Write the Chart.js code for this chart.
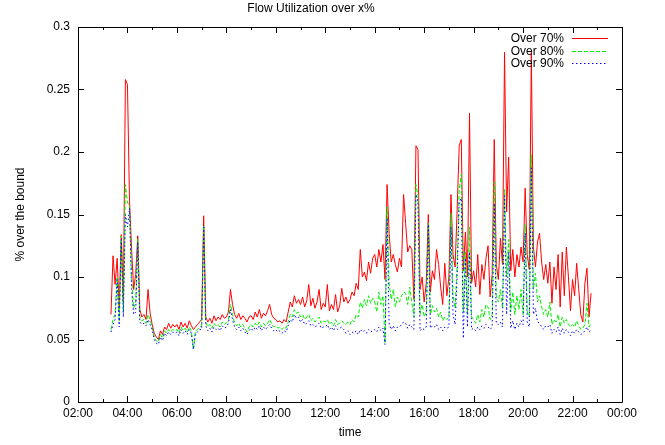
<!DOCTYPE html>
<html>
<head>
<meta charset="utf-8">
<script src="https://cdn.jsdelivr.net/npm/chart.js@4.4.1/dist/chart.umd.min.js"></script>
<style>
  body { margin: 0; background: #fff; }
  #wrap { width: 665px; height: 445px; }
</style>
</head>
<body>
<div id="wrap"><canvas id="flowChart" width="665" height="445"></canvas></div>
<script>
// samples every 5 minutes, first one at 03:20 (hours since midnight)
const startHour = 3 + 20 / 60;
const stepHours = 5 / 60;

const seriesNames = ['Over 70%', 'Over 80%', 'Over 90%'];

const over70 = [
  0.070, 0.117, 0.094, 0.115, 0.075, 0.134, 0.080, 0.258,
  0.254, 0.161, 0.123, 0.090, 0.102, 0.133, 0.074, 0.068, 0.070, 0.066, 0.090, 0.071,
  0.062, 0.055, 0.052, 0.050, 0.057, 0.054, 0.060, 0.058, 0.063, 0.059, 0.062, 0.060,
  0.062, 0.058, 0.064, 0.060, 0.063, 0.059, 0.065, 0.061, 0.058, 0.060, 0.062, 0.064,
  0.066, 0.149, 0.068, 0.064, 0.067, 0.063, 0.069, 0.065, 0.068, 0.066, 0.070, 0.067,
  0.068, 0.072, 0.090, 0.078, 0.070, 0.067, 0.071, 0.066, 0.069, 0.067, 0.064, 0.068,
  0.069, 0.066, 0.072, 0.068, 0.074, 0.067, 0.071, 0.069, 0.073, 0.078, 0.070, 0.067,
  0.066, 0.064, 0.065, 0.063, 0.066, 0.064, 0.072, 0.080, 0.076, 0.085, 0.079, 0.082,
  0.078, 0.084, 0.076, 0.081, 0.094, 0.077, 0.083, 0.075, 0.080, 0.090, 0.074, 0.079,
  0.076, 0.094, 0.073, 0.078, 0.074, 0.086, 0.072, 0.077, 0.091, 0.080, 0.084, 0.079,
  0.082, 0.088, 0.085, 0.095, 0.090, 0.122, 0.100, 0.104, 0.097, 0.112, 0.103, 0.115,
  0.118, 0.108, 0.122, 0.112, 0.126, 0.098, 0.174, 0.135, 0.112, 0.118, 0.110, 0.104,
  0.115, 0.108, 0.166, 0.143, 0.120, 0.125, 0.122, 0.082, 0.205, 0.202, 0.090, 0.100,
  0.080, 0.095, 0.150, 0.088, 0.105, 0.098, 0.122, 0.110, 0.092, 0.078, 0.111, 0.085,
  0.100, 0.166, 0.118, 0.108, 0.154, 0.205, 0.210, 0.105, 0.136, 0.100, 0.231, 0.095,
  0.105, 0.092, 0.118, 0.086, 0.110, 0.098, 0.115, 0.125, 0.084, 0.102, 0.210, 0.110,
  0.098, 0.131, 0.110, 0.280, 0.152, 0.196, 0.105, 0.122, 0.100, 0.118, 0.108, 0.124,
  0.112, 0.171, 0.118, 0.106, 0.280, 0.124, 0.108, 0.128, 0.135, 0.112, 0.098, 0.110,
  0.095, 0.112, 0.079, 0.108, 0.090, 0.118, 0.076, 0.120, 0.085, 0.124, 0.100, 0.073,
  0.098, 0.085, 0.111, 0.090, 0.070, 0.064, 0.095, 0.107, 0.068, 0.087
];

const over80 = [
  0.058, 0.066, 0.070, 0.100, 0.065, 0.133, 0.072, 0.174,
  0.160, 0.156, 0.100, 0.075, 0.080, 0.130, 0.068, 0.065, 0.066, 0.063, 0.070, 0.066,
  0.060, 0.052, 0.049, 0.048, 0.054, 0.051, 0.057, 0.055, 0.058, 0.056, 0.058, 0.057,
  0.058, 0.055, 0.060, 0.057, 0.059, 0.056, 0.060, 0.057, 0.042, 0.057, 0.058, 0.060,
  0.061, 0.141, 0.064, 0.060, 0.062, 0.059, 0.063, 0.061, 0.062, 0.060, 0.064, 0.062,
  0.063, 0.066, 0.078, 0.070, 0.063, 0.061, 0.063, 0.060, 0.062, 0.059, 0.056, 0.060,
  0.062, 0.060, 0.063, 0.061, 0.064, 0.060, 0.063, 0.061, 0.063, 0.066, 0.062, 0.060,
  0.061, 0.059, 0.060, 0.058, 0.060, 0.059, 0.064, 0.070, 0.068, 0.074, 0.071, 0.072,
  0.068, 0.070, 0.066, 0.068, 0.070, 0.065, 0.067, 0.064, 0.066, 0.068, 0.063, 0.065,
  0.064, 0.066, 0.062, 0.064, 0.061, 0.066, 0.062, 0.063, 0.065, 0.063, 0.062, 0.064,
  0.062, 0.066, 0.064, 0.070, 0.068, 0.080, 0.075, 0.082, 0.077, 0.085, 0.079, 0.083,
  0.080, 0.072, 0.088, 0.078, 0.085, 0.047, 0.156, 0.095, 0.082, 0.090, 0.076, 0.084,
  0.080, 0.085, 0.088, 0.087, 0.078, 0.092, 0.080, 0.068, 0.174, 0.165, 0.070, 0.078,
  0.068, 0.072, 0.143, 0.070, 0.077, 0.072, 0.075, 0.068, 0.072, 0.065, 0.068, 0.066,
  0.068, 0.151, 0.085, 0.075, 0.110, 0.170, 0.182, 0.072, 0.120, 0.070, 0.140, 0.068,
  0.066, 0.063, 0.070, 0.064, 0.074, 0.068, 0.078, 0.076, 0.066, 0.070, 0.176, 0.085,
  0.080, 0.090, 0.075, 0.170, 0.100, 0.130, 0.072, 0.088, 0.070, 0.085, 0.074, 0.090,
  0.070, 0.142, 0.072, 0.068, 0.198, 0.090, 0.103, 0.080, 0.085, 0.076, 0.070, 0.074,
  0.068, 0.080, 0.062, 0.066, 0.064, 0.070, 0.060, 0.068, 0.063, 0.066, 0.062, 0.060,
  0.062, 0.060, 0.065, 0.061, 0.058, 0.059, 0.062, 0.079, 0.060, 0.063
];

const over90 = [
  0.056, 0.062, 0.066, 0.098, 0.060, 0.130, 0.068, 0.150,
  0.140, 0.155, 0.090, 0.070, 0.072, 0.128, 0.064, 0.062, 0.063, 0.061, 0.066, 0.062,
  0.058, 0.050, 0.047, 0.046, 0.052, 0.049, 0.055, 0.053, 0.056, 0.054, 0.056, 0.055,
  0.056, 0.053, 0.058, 0.055, 0.057, 0.054, 0.058, 0.055, 0.042, 0.055, 0.056, 0.058,
  0.058, 0.140, 0.061, 0.057, 0.059, 0.056, 0.060, 0.058, 0.059, 0.057, 0.061, 0.059,
  0.060, 0.063, 0.074, 0.066, 0.060, 0.058, 0.060, 0.057, 0.059, 0.056, 0.054, 0.057,
  0.059, 0.057, 0.060, 0.058, 0.061, 0.057, 0.060, 0.058, 0.060, 0.062, 0.059, 0.057,
  0.058, 0.056, 0.057, 0.055, 0.057, 0.056, 0.061, 0.066, 0.064, 0.070, 0.067, 0.068,
  0.064, 0.066, 0.062, 0.063, 0.065, 0.061, 0.062, 0.060, 0.061, 0.063, 0.059, 0.060,
  0.060, 0.062, 0.058, 0.060, 0.057, 0.061, 0.058, 0.059, 0.060, 0.058, 0.055, 0.057,
  0.054, 0.056, 0.055, 0.057, 0.054, 0.058, 0.056, 0.057, 0.055, 0.058, 0.056, 0.057,
  0.058, 0.056, 0.060, 0.057, 0.059, 0.046, 0.147, 0.062, 0.058, 0.061, 0.057, 0.060,
  0.060, 0.062, 0.064, 0.063, 0.059, 0.062, 0.060, 0.058, 0.166, 0.160, 0.057, 0.059,
  0.058, 0.060, 0.142, 0.059, 0.061, 0.060, 0.062, 0.058, 0.060, 0.057, 0.060, 0.059,
  0.060, 0.140, 0.070, 0.062, 0.100, 0.160, 0.163, 0.051, 0.115, 0.060, 0.120, 0.058,
  0.059, 0.057, 0.060, 0.058, 0.061, 0.059, 0.062, 0.060, 0.058, 0.060, 0.159, 0.063,
  0.062, 0.064, 0.060, 0.165, 0.070, 0.120, 0.059, 0.065, 0.058, 0.063, 0.060, 0.065,
  0.062, 0.135, 0.064, 0.060, 0.187, 0.070, 0.075, 0.064, 0.063, 0.060, 0.058, 0.061,
  0.060, 0.062, 0.055, 0.058, 0.056, 0.060, 0.054, 0.059, 0.055, 0.058, 0.056, 0.053,
  0.057, 0.055, 0.058, 0.056, 0.054, 0.055, 0.057, 0.060, 0.056, 0.058
];

const hourTicks = [2, 4, 6, 8, 10, 12, 14, 16, 18, 20, 22, 24];
const hourTickLabels = ['02:00', '04:00', '06:00', '08:00', '10:00', '12:00',
                        '14:00', '16:00', '18:00', '20:00', '22:00', '00:00'];
const minorHourTicks = [3, 5, 7, 9, 11, 13, 15, 17, 19, 21, 23];
const yTicks = [0, 0.05, 0.1, 0.15, 0.2, 0.25, 0.3];
const yTickLabels = ['0', '0.05', '0.1', '0.15', '0.2', '0.25', '0.3'];

const colors = ['#ff0000', '#00ee00', '#0000ff'];
const dashes = [[], [4, 2], [1.5, 2.5]];

function toPoints(values) {
  return values.map((v, i) => ({ x: startHour + i * stepHours, y: v }));
}

Chart.defaults.font.family = "'Liberation Sans', Arial, sans-serif";
Chart.defaults.font.size = 12;
Chart.defaults.color = '#000';

// gnuplot style frame: box with inward ticks on all four sides
const framePlugin = {
  id: 'frame',
  afterDatasetsDraw(chart) {
    const { ctx, chartArea: a, scales } = chart;
    const xs = scales.x, ys = scales.y;
    ctx.save();
    ctx.strokeStyle = '#000';
    ctx.lineWidth = 1;
    ctx.beginPath();
    ctx.rect(Math.round(a.left) + 0.5, Math.round(a.top) + 0.5,
             Math.round(a.right - a.left), Math.round(a.bottom - a.top));
    hourTicks.forEach(h => {
      const px = Math.round(xs.getPixelForValue(h)) + 0.5;
      ctx.moveTo(px, a.bottom); ctx.lineTo(px, a.bottom - 6);
      ctx.moveTo(px, a.top); ctx.lineTo(px, a.top + 6);
    });
    minorHourTicks.forEach(h => {
      const px = Math.round(xs.getPixelForValue(h)) + 0.5;
      ctx.moveTo(px, a.bottom); ctx.lineTo(px, a.bottom - 3);
      ctx.moveTo(px, a.top); ctx.lineTo(px, a.top + 3);
    });
    yTicks.forEach(v => {
      const py = Math.round(ys.getPixelForValue(v)) + 0.5;
      ctx.moveTo(a.left, py); ctx.lineTo(a.left + 6, py);
      ctx.moveTo(a.right, py); ctx.lineTo(a.right - 6, py);
    });
    ctx.stroke();

    // key in the top right corner, text first then the line sample
    ctx.font = Chart.defaults.font.size + 'px ' + Chart.defaults.font.family;
    ctx.textAlign = 'right';
    ctx.textBaseline = 'middle';
    seriesNames.forEach((name, i) => {
      const y = Math.round(a.top + 11 + i * 12.5) + 0.5;
      ctx.fillStyle = '#000';
      ctx.fillText(name, a.right - 58, y);
      ctx.strokeStyle = colors[i];
      ctx.setLineDash(dashes[i]);
      ctx.beginPath();
      ctx.moveTo(a.right - 50, y);
      ctx.lineTo(a.right - 14, y);
      ctx.stroke();
    });
    ctx.restore();
  }
};

const seriesValues = [over70, over80, over90];

new Chart(document.getElementById('flowChart'), {
  type: 'line',
  data: {
    datasets: seriesValues.map((vals, i) => ({
      label: seriesNames[i],
      data: toPoints(vals),
      borderColor: colors[i],
      borderDash: dashes[i],
      borderWidth: 1,
      pointRadius: 0,
      tension: 0,
      fill: false,
      order: 3 - i
    }))
  },
  options: {
    responsive: false,
    animation: false,
    devicePixelRatio: 1,
    layout: { padding: { left: 0, right: 43, top: 0, bottom: 0 } },
    plugins: {
      legend: { display: false },
      tooltip: { enabled: false },
      title: {
        display: true,
        text: 'Flow Utilization over x%',
        font: { size: 12, weight: 'normal' },
        padding: { top: 1, bottom: 11.6 }
      }
    },
    scales: {
      x: {
        type: 'linear',
        min: 2,
        max: 24,
        grid: { display: false, drawTicks: false },
        border: { display: false },
        afterBuildTicks(scale) { scale.ticks = hourTicks.map(v => ({ value: v })); },
        afterFit(scale) { scale.height = 43; },
        ticks: {
          autoSkip: false,
          maxRotation: 0,
          padding: 4,
          callback: (value) => hourTickLabels[hourTicks.indexOf(value)]
        },
        title: { display: true, text: 'time', padding: { top: 0, bottom: 5 } }
      },
      y: {
        min: 0,
        max: 0.3,
        grid: { display: false, drawTicks: false },
        border: { display: false },
        afterBuildTicks(scale) { scale.ticks = yTicks.map(v => ({ value: v })); },
        afterFit(scale) { scale.width = 78; },
        ticks: {
          padding: 8,
          callback: (value) => yTickLabels[yTicks.indexOf(value)]
        },
        title: { display: true, text: '% over the bound', padding: { top: 13, bottom: 0 } }
      }
    }
  },
  plugins: [framePlugin]
});
</script>
</body>
</html>
